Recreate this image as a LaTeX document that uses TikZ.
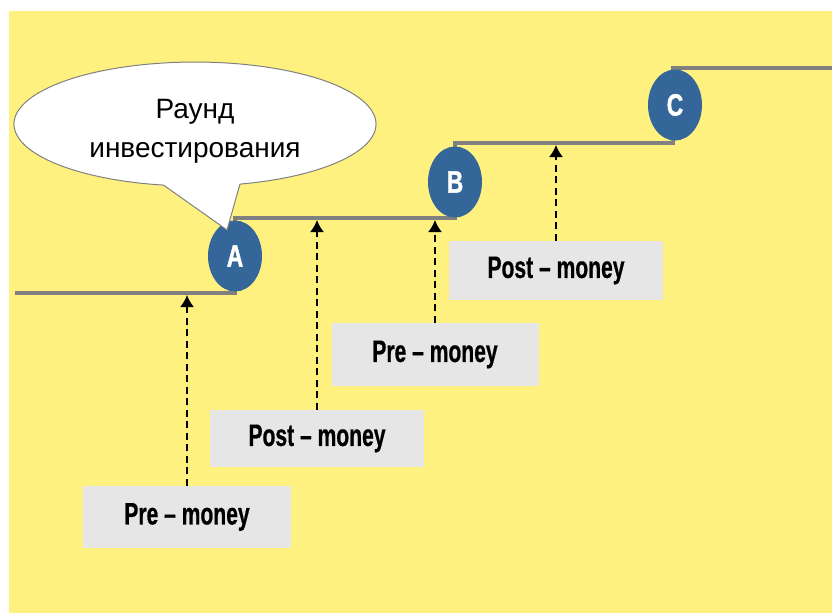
\documentclass[tikz,border=0pt]{standalone}
\usepackage{fontspec}
\setmainfont{Liberation Sans}
\newfontfamily\cond[FakeStretch=0.68,BoldFeatures={FakeBold=0.6}]{Liberation Sans}
\newfontfamily\condheavy[FakeStretch=0.74,BoldFeatures={FakeBold=1.2}]{Liberation Sans}
\usetikzlibrary{arrows.meta,shapes.geometric}
\definecolor{bgyellow}{RGB}{255,241,128}
\definecolor{stepgray}{RGB}{128,128,128}
\definecolor{roundblue}{RGB}{52,102,153}
\definecolor{boxgray}{RGB}{230,230,230}
\begin{document}
\begin{tikzpicture}[x=1pt,y=-1pt,
  stepline/.style={line width=4pt, draw=stepgray},
  roundnode/.style={ellipse, fill=roundblue, minimum width=54, minimum height=71, inner sep=0pt, text=white, font=\condheavy\bfseries\fontsize{31}{31}\selectfont},
  valbox/.style={fill=boxgray, inner sep=0pt, font=\cond\bfseries\fontsize{31}{31}\selectfont},
  dasharrow/.style={dash pattern=on 7pt off 4.5pt, line width=1.8pt, -{Latex[length=12pt,width=14pt]}},
  bubble/.style={fill=white, draw=stepgray, line width=1pt}
]
\useasboundingbox (0,0) rectangle (832,613);
\fill[white] (0,0) rectangle (832,613);
\fill[bgyellow] (9,11) rectangle (832,613);

% level coordinates (bottom edge of the step line)
\coordinate (lvl1) at (0,295);
\coordinate (lvl2) at (0,220);
\coordinate (lvl3) at (0,145);

% step line
\draw[stepline] (15,293) -- (235,293) -- (235,218) -- (455,218) -- (455,143) -- (673,143) -- (673,68) -- (832,68);

% rounds
\node[roundnode] (A) at (235,256) {A};
\node[roundnode] (B) at (455,182) {B};
\node[roundnode] (C) at (675,105) {C};

% value boxes
\node[valbox, minimum width=208, minimum height=62] (pre1) at (187,517) {Pre – money};
\node[valbox, minimum width=214, minimum height=57] (post1) at (317,438.5) {Post – money};
\node[valbox, minimum width=207, minimum height=63] (pre2) at (435,354.5) {Pre – money};
\node[valbox, minimum width=214, minimum height=59] (post2) at (556,270.5) {Post – money};

% arrows
\draw[dasharrow] (pre1.north) -- (pre1.north |- lvl1);
\draw[dasharrow] (post1.north) -- (post1.north |- lvl2);
\draw[dasharrow] (pre2.north) -- (pre2.north |- lvl2);
\draw[dasharrow] (post2.north) -- (post2.north |- lvl3);

% callout
\coordinate (tip) at (227,230);
\draw[bubble] (240.0,184.1) arc[start angle=75.6, end angle=-260, x radius=181, y radius=62] -- (tip) -- cycle;
\node[align=center, font=\fontsize{28}{39}\selectfont, inner sep=0pt] (label) at (195,131) {Раунд\\инвестирования};
\end{tikzpicture}
\end{document}
